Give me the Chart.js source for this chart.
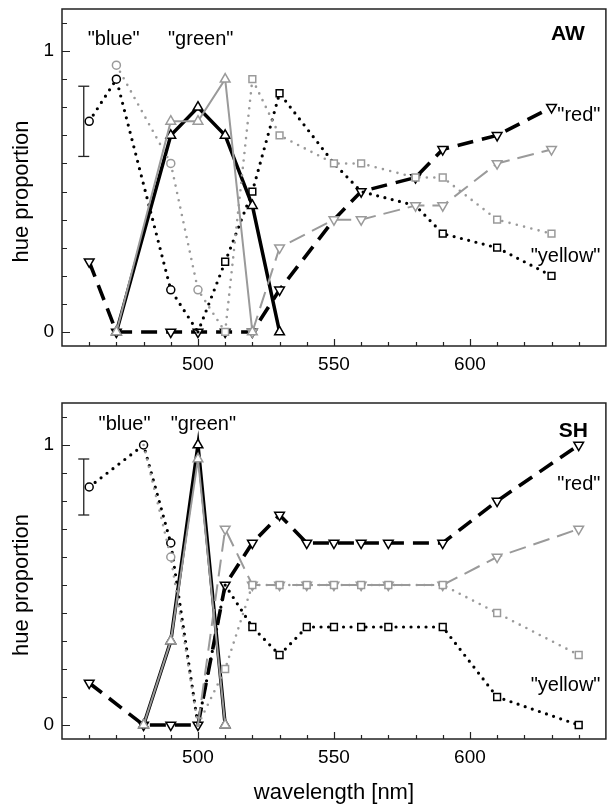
<!DOCTYPE html>
<html>
<head>
<meta charset="utf-8">
<script src="https://cdn.jsdelivr.net/npm/chart.js@4/dist/chart.umd.min.js"></script>
<style>
body{margin:0;background:#fff}
#wrap{position:relative;width:613px;height:806px}
canvas{position:absolute;left:0}
</style>
</head>
<body>
<div id="wrap">
<canvas id="aw" width="613" height="380" style="top:0"></canvas>
<canvas id="sh" width="613" height="426" style="top:380px"></canvas>
</div>
<script>
// axis ticks
const xMajorTicks = [500, 550, 600]
const xMinorTicks = [460, 470, 480, 490, 500, 510, 520, 530, 540, 550, 560, 570, 580, 590, 600, 610, 620, 630, 640]
const yMajorTicks = [0, 1]
const yMinorTicks = [0, 0.1, 0.2, 0.3, 0.4, 0.5, 0.6, 0.7, 0.8, 0.9, 1, 1.1]

// --- observer AW (top) ---
const awBlueNm = [460, 470, 490, 500]
const awBlueBlack = [0.75, 0.90, 0.15, 0]
const awBlueGrayNm = [470, 490, 500, 510]
const awBlueGray = [0.95, 0.60, 0.15, 0]
const awGreenNm = [470, 490, 500, 510, 520, 530]
const awGreenBlack = [0, 0.70, 0.80, 0.70, 0.45, 0]
const awGreenGrayNm = [470, 490, 500, 510, 520]
const awGreenGray = [0, 0.75, 0.75, 0.90, 0]
const awYellowNm = [500, 510, 520, 530, 550, 560, 580, 590, 610, 630]
const awYellowBlack = [0, 0.25, 0.50, 0.85, 0.60, 0.50, 0.45, 0.35, 0.30, 0.20]
const awYellowGrayNm = [510, 520, 530, 550, 560, 580, 590, 610, 630]
const awYellowGray = [0, 0.90, 0.70, 0.60, 0.60, 0.55, 0.55, 0.40, 0.35]
const awRedNm = [460, 470, 490, 500, 510, 520, 530, 550, 560, 580, 590, 610, 630]
const awRedBlack = [0.25, 0, 0, 0, 0, 0, 0.15, 0.40, 0.50, 0.55, 0.65, 0.70, 0.80]
const awRedGrayNm = [520, 530, 550, 560, 580, 590, 610, 630]
const awRedGray = [0, 0.30, 0.40, 0.40, 0.45, 0.45, 0.60, 0.65]
const awErrNm = 458
const awErr = [0.625, 0.875]

// --- observer SH (bottom) ---
const shBlueNm = [460, 480, 490, 500]
const shBlueBlack = [0.85, 1.0, 0.65, 0]
const shBlueGrayNm = [480, 490, 500]
const shBlueGray = [1.0, 0.60, 0]
const shGreenNm = [480, 490, 500, 510]
const shGreenBlack = [0, 0.30, 1.0, 0]
const shGreenGray = [0, 0.30, 0.95, 0]
const shYellowNm = [500, 510, 520, 530, 540, 550, 560, 570, 590, 610, 640]
const shYellowBlack = [0, 0.50, 0.35, 0.25, 0.35, 0.35, 0.35, 0.35, 0.35, 0.10, 0]
const shYellowGray = [0, 0.20, 0.50, 0.50, 0.50, 0.50, 0.50, 0.50, 0.50, 0.40, 0.25]
const shRedNm = [460, 480, 490, 500, 510, 520, 530, 540, 550, 560, 570, 590, 610, 640]
const shRedBlack = [0.15, 0, 0, 0, 0.50, 0.65, 0.75, 0.65, 0.65, 0.65, 0.65, 0.65, 0.80, 1.0]
const shRedGrayNm = [500, 510, 520, 530, 540, 550, 560, 570, 590, 610, 640]
const shRedGray = [0, 0.70, 0.50, 0.50, 0.50, 0.50, 0.50, 0.50, 0.50, 0.60, 0.70]
const shErrNm = 458
const shErr = [0.75, 0.95]

const FONT = '"Liberation Sans", Arial, Helvetica, sans-serif'
const BLACK = '#000'
const GRAY = '#9a9a9a'

function pts(nm, val){
    return nm.map((x, i) => ({x: x, y: val[i]}))
}

// one curve; kind = line style, marker = symbol, hide = wavelengths whose symbol is covered in the original
function serie(nm, val, kind, color, marker, hide=[]){
    let r = 4
    const d = {
        data: pts(nm, val),
        borderColor: color,
        backgroundColor: '#fff',
        pointBackgroundColor: '#fff',
        pointBorderColor: color,
        pointBorderWidth: 1.5,
        tension: 0,
        fill: false,
        order: color == BLACK ? 2 : 1
    }
    if(kind == 'dot'){ d.borderWidth = color == BLACK ? 3.2 : 2.6; d.borderDash = [0, 7.5]; d.borderCapStyle = 'round' }
    if(kind == 'dash'){ d.borderWidth = color == BLACK ? 3.6 : 2; d.borderDash = color == BLACK ? [16, 9] : [17, 8] }
    if(kind == 'solid'){ d.borderWidth = color == BLACK ? 3.5 : 2 }
    if(marker == 'circle'){ d.pointStyle = 'circle'; r = 4 }
    if(marker == 'up'){ d.pointStyle = 'triangle'; r = 5.6 }
    if(marker == 'down'){ d.pointStyle = 'triangle'; d.pointRotation = 180; r = 5.6 }
    if(marker == 'square'){ d.pointStyle = 'rect'; r = 4.8 }
    d.pointRadius = function(ctx){
        if(ctx.raw && hide.includes(ctx.raw.x)) return 0
        return r
    }
    return d
}

function errbar(nm, lohi){
    return {
        data: [{x: nm, y: lohi[0]}, {x: nm, y: lohi[1]}],
        borderColor: '#222', borderWidth: 1.3,
        pointStyle: 'line', pointRadius: 5.5,
        pointBorderColor: '#222', pointBorderWidth: 1.3,
        order: 0
    }
}

// frame, inward ticks, axis titles and curve names
const frame = {
    id: 'frame',
    afterDraw(chart, args, opts){
        const ctx = chart.ctx
        const a = chart.chartArea
        const x = chart.scales.x
        const y = chart.scales.y
        ctx.save()
        ctx.strokeStyle = '#222'
        ctx.lineWidth = 1.5
        ctx.strokeRect(a.left, a.top, a.right - a.left, a.bottom - a.top)
        ctx.lineWidth = 1.2
        ctx.beginPath()
        xMinorTicks.forEach(v => {
            const px = Math.round(x.getPixelForValue(v)) + 0.5
            const len = xMajorTicks.includes(v) ? 7 : 4
            ctx.moveTo(px, a.bottom); ctx.lineTo(px, a.bottom - len)
        })
        yMinorTicks.forEach(v => {
            const py = Math.round(y.getPixelForValue(v)) + 0.5
            const len = yMajorTicks.includes(v) ? 8 : 5
            ctx.moveTo(a.left, py); ctx.lineTo(a.left + len, py)
        })
        ctx.stroke()

        ctx.fillStyle = '#000'
        ctx.font = '22px ' + FONT
        ctx.textAlign = 'center'
        ctx.textBaseline = 'middle'
        ctx.save()
        ctx.translate(22, y.getPixelForValue(0.5))
        ctx.rotate(-Math.PI / 2)
        ctx.fillText('hue proportion', 0, 0)
        ctx.restore()
        if(opts.xTitle){
            ctx.textBaseline = 'alphabetic'
            ctx.fillText(opts.xTitle, (a.left + a.right) / 2, a.bottom + 60)
        }
        ctx.textBaseline = 'middle'
        opts.notes.forEach(n => {
            ctx.font = (n.bold ? 'bold 21px ' : '20px ') + FONT
            ctx.textAlign = n.align || 'center'
            ctx.fillText(n.text, x.getPixelForValue(n.x), y.getPixelForValue(n.y))
        })
        ctx.restore()
    }
}

function desenha(id, datasets, padTop, axisH, notes, xTitle){
    const ctx = document.getElementById(id).getContext('2d')
    return new Chart(ctx, {
        type: 'line',
        data: { datasets: datasets },
        options: {
            responsive: false,
            animation: false,
            devicePixelRatio: 1,
            layout: { padding: { top: padTop, right: 5, left: 0, bottom: 0 } },
            plugins: {
                legend: { display: false },
                tooltip: { enabled: false },
                frame: { notes: notes, xTitle: xTitle }
            },
            scales: {
                x: {
                    type: 'linear', min: 450, max: 650,
                    grid: { display: false, drawTicks: false, tickLength: 0 }, border: { display: false },
                    afterBuildTicks: s => { s.ticks = xMajorTicks.map(v => ({value: v})) },
                    ticks: { font: { family: FONT, size: 19 }, color: '#000', padding: 7, maxRotation: 0, autoSkip: false },
                    afterFit: s => { s.height = axisH; s.paddingLeft = 0; s.paddingRight = 0 }
                },
                y: {
                    type: 'linear', min: -0.05, max: 1.15,
                    grid: { display: false, drawTicks: false, tickLength: 0 }, border: { display: false },
                    afterBuildTicks: s => { s.ticks = yMajorTicks.map(v => ({value: v})) },
                    ticks: { font: { family: FONT, size: 19 }, color: '#000', padding: 8 },
                    afterFit: s => { s.width = 62; s.paddingTop = 0; s.paddingBottom = 0 }
                }
            }
        },
        plugins: [frame]
    })
}

desenha('aw', [
    errbar(awErrNm, awErr),
    serie(awBlueNm, awBlueBlack, 'dot', BLACK, 'circle', [500]),
    serie(awBlueGrayNm, awBlueGray, 'dot', GRAY, 'circle', [510]),
    serie(awGreenNm, awGreenBlack, 'solid', BLACK, 'up'),
    serie(awGreenGrayNm, awGreenGray, 'solid', GRAY, 'up'),
    serie(awYellowNm, awYellowBlack, 'dot', BLACK, 'square', [500, 550, 560, 580]),
    serie(awYellowGrayNm, awYellowGray, 'dot', GRAY, 'square'),
    serie(awRedNm, awRedBlack, 'dash', BLACK, 'down', [550]),
    serie(awRedGrayNm, awRedGray, 'dash', GRAY, 'down')
], 9, 34, [
    {text: '"blue"', x: 469, y: 1.04},
    {text: '"green"', x: 501, y: 1.04},
    {text: 'AW', x: 636, y: 1.06, bold: true},
    {text: '"red"', x: 648, y: 0.77, align: 'right'},
    {text: '"yellow"', x: 648, y: 0.27, align: 'right'}
], null)

desenha('sh', [
    errbar(shErrNm, shErr),
    serie(shBlueNm, shBlueBlack, 'dot', BLACK, 'circle', [500]),
    serie(shBlueGrayNm, shBlueGray, 'dot', GRAY, 'circle', [480, 500]),
    serie(shGreenNm, shGreenBlack, 'solid', BLACK, 'up'),
    serie(shGreenNm, shGreenGray, 'solid', GRAY, 'up'),
    serie(shYellowNm, shYellowBlack, 'dot', BLACK, 'square', [500, 510]),
    serie(shYellowNm, shYellowGray, 'dot', GRAY, 'square', [500]),
    serie(shRedNm, shRedBlack, 'dash', BLACK, 'down'),
    serie(shRedGrayNm, shRedGray, 'dash', GRAY, 'down', [500])
], 23, 67, [
    {text: '"blue"', x: 473, y: 1.075},
    {text: '"green"', x: 502, y: 1.075},
    {text: 'SH', x: 638, y: 1.05, bold: true},
    {text: '"red"', x: 648, y: 0.86, align: 'right'},
    {text: '"yellow"', x: 648, y: 0.14, align: 'right'}
], 'wavelength [nm]')
</script>
</body>
</html>
